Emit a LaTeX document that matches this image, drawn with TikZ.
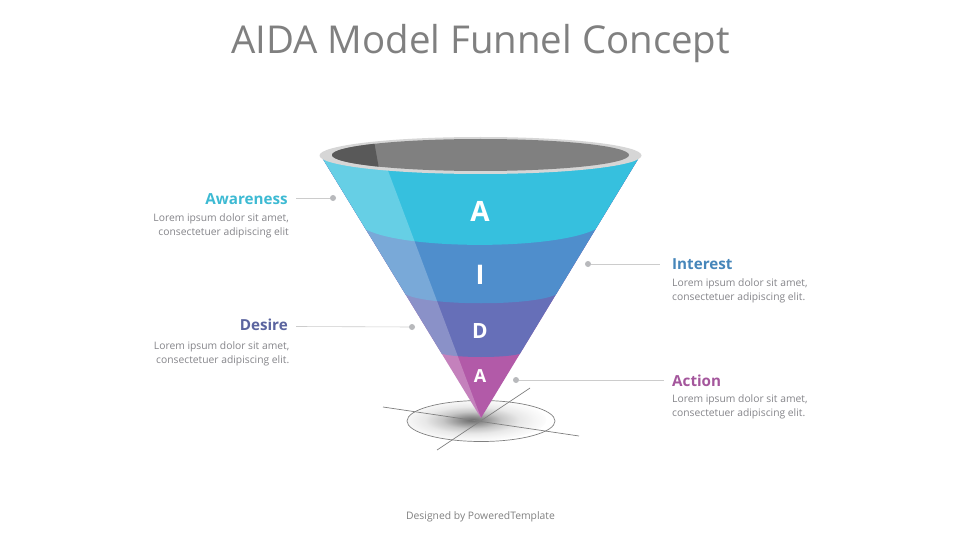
\documentclass[tikz,border=0pt]{standalone}
\usepackage{fontspec}
\setmainfont{Open Sans}
\usetikzlibrary{shadings}
\definecolor{cA}{HTML}{36C0DE}
\definecolor{cI}{HTML}{4F8ECC}
\definecolor{cD}{HTML}{666FB8}
\definecolor{cAc}{HTML}{B25AA8}
\definecolor{tA}{HTML}{3DBAD3}
\definecolor{tI}{HTML}{4686BA}
\definecolor{tD}{HTML}{5B649F}
\definecolor{tAc}{HTML}{A4569C}
\definecolor{bodytxt}{HTML}{85858A}
\definecolor{dotc}{HTML}{B8B9BC}
\pgfdeclareradialshading{groundshadow}{\pgfpoint{0bp}{0bp}}{color(0bp)=(black!58); color(4bp)=(black!44); color(10bp)=(black!22); color(16bp)=(black!9); color(21bp)=(black!4); color(25bp)=(black!1); color(50bp)=(white)}
\tikzset{
 head/.style={font=\fontsize{15.2}{16}\selectfont\bfseries,inner sep=0pt},
 body/.style={font=\fontsize{10.3}{14}\selectfont,text=bodytxt,inner sep=0pt},
 band/.style={text=white,inner sep=0pt},
 leader/.style={draw=black!20,line width=0.6pt},
 dotn/.style={circle,fill=dotc,minimum size=6pt,inner sep=0pt},
 ground/.style={draw=black!50,line width=0.7pt},
}
\begin{document}
\begin{tikzpicture}[x=1pt,y=-1pt]
\useasboundingbox (0,0) rectangle (960,540);
\fill[white] (0,0) rectangle (960,540);
\node[font=\fontsize{38.4}{44}\selectfont,text=black!50,inner sep=0pt] (title) at (480.5,44) {AIDA Model Funnel Concept};
\node[font=\fontsize{10.35}{12}\selectfont,text=black!50,inner sep=0pt] (credit) at (480.5,517) {Designed by PoweredTemplate};
% ground
\begin{scope}
\clip (481,421) ellipse [x radius=74,y radius=20.5];
\shade[shading=groundshadow] (472,420) ellipse [x radius=74,y radius=21];
\end{scope}
\draw[ground] (481,421) ellipse [x radius=74,y radius=20.5];
\coordinate (g1) at (383,407); \coordinate (g2) at (579,436);
\coordinate (g3) at (437,450); \coordinate (g4) at (530,388);
\draw[ground] (g1) -- (g2);
\draw[ground] (g3) -- (g4);
% funnel
\begin{scope}
\clip (320.5,155) -- (481,418) -- (640.5,155) -- cycle;
\fill[cAc] (300,140) rectangle (660,430);
\fill[cD] (300,140) -- (660,140) -- (660,354) -- (519,354) .. controls (505,358) and (457,358) .. (443,354) -- (300,354) -- cycle;
\fill[cI] (300,140) -- (660,140) -- (660,295) -- (555,295) .. controls (530,306) and (432,306) .. (407,295) -- (300,295) -- cycle;
\fill[cA] (300,140) -- (660,140) -- (660,229) -- (596,229) .. controls (555,250) and (408,250) .. (367,230) -- (300,230) -- cycle;
\fill[white,opacity=0.24] (300,140) -- (384,160) -- (481,418) -- (300,430) -- cycle;
\end{scope}
% rim
\fill[black!16] (480.5,155.5) ellipse [x radius=161,y radius=18.5];
\begin{scope}
\clip (480.5,155) ellipse [x radius=148.5,y radius=16];
\fill[black!50] (320,130) rectangle (640,180);
\fill[black!65] (320,130) -- (372,130) -- (381,180) -- (320,180) -- cycle;
\end{scope}
% band letters
\node[band,font=\fontsize{28}{30}\selectfont\bfseries] (lA) at (480,211) {A};
\node[band,font=\fontsize{27}{30}\selectfont\bfseries] (lI) at (480,275) {I};
\node[band,font=\fontsize{21}{24}\selectfont\bfseries] (lD) at (480,331) {D};
\node[band,font=\fontsize{18}{20}\selectfont\bfseries] (lAc) at (480,376) {A};
% callouts
\node[head,text=tA,anchor=east] (hA) at (288,199) {Awareness};
\node[body,anchor=north east,align=right] (bA) at (289,213) {Lorem ipsum dolor sit amet,\\consectetuer adipiscing elit};
\node[head,text=tD,anchor=east] (hD) at (288,325) {Desire};
\node[body,anchor=north east,align=right] (bD) at (289.5,341) {Lorem ipsum dolor sit amet,\\consectetuer adipiscing elit.};
\node[head,text=tI,anchor=west] (hI) at (672,264.5) {Interest};
\node[body,anchor=north west,align=left] (bI) at (672,278) {Lorem ipsum dolor sit amet,\\consectetuer adipiscing elit.};
\node[head,text=tAc,anchor=west] (hAc) at (672,381) {Action};
\node[body,anchor=north west,align=left] (bAc) at (672,394.5) {Lorem ipsum dolor sit amet,\\consectetuer adipiscing elit.};
% dots & leaders
\node[dotn] (dA) at (333,198) {};
\node[dotn] (dI) at (588,264) {};
\node[dotn] (dD) at (412,327) {};
\node[dotn] (dAc) at (516,380) {};
\coordinate (eA) at (296,198);
\coordinate (eI) at (660,264);
\coordinate (eD) at (296,326.5);
\coordinate (eAc) at (664,380);
\draw[leader] (eA) -- (dA);
\draw[leader] (dI) -- (eI);
\draw[leader] (eD) -- (dD);
\draw[leader] (dAc) -- (eAc);
\end{tikzpicture}
\end{document}
